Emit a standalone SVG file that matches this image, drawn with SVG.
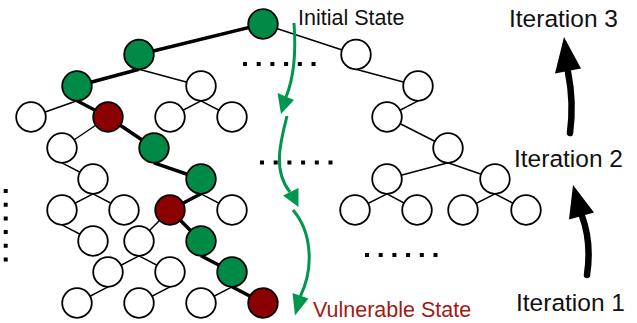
<svg xmlns="http://www.w3.org/2000/svg" width="637" height="323" viewBox="0 0 637 323">
<style>
.n{stroke:#000;stroke-width:1.8}
.w{fill:#fff}.g{fill:#008A46}.r{fill:#8B0000}
.e{stroke:#000;stroke-width:1.5;fill:none}
.t{stroke:#000;stroke-width:3.5;fill:none}
.dots{stroke:#000;stroke-width:4;stroke-dasharray:4 9.7;fill:none}
.ga{stroke:#009650;stroke-width:3;fill:none}
.gh{fill:#009650}
.ba{stroke:#000;stroke-width:6.5;fill:none;stroke-linecap:round}
.lbl{font-family:"Liberation Sans",Arial,Helvetica,sans-serif;fill:#111}
</style>
<rect width="637" height="323" fill="#fff"/>
<g id="connectors">
<path class="t" d="M263 24 L139 54.5 M139 69.3 L77 86 M77 100.8 L108 117 M108 117 L154 148 M154 162.8 L201 179 M201 193.8 L170 210 M170 210 L201 241 M201 255.8 L232 272 M232 286.8 L263 303"/>
<path class="e" d="M263 24 L356 54.5 M139 69.3 L201 86 M77 100.8 L31 117 M201 100.8 L170 117 M201 100.8 L232 117 M108 117 L62 148 M62 162.8 L93 179 M93 193.8 L62 210 M93 193.8 L124 210 M201 193.8 L232 210 M62 224.8 L93 241 M170 210 L139 241 M139 255.8 L108 272 M139 255.8 L170 272 M108 286.8 L77 303 M170 286.8 L139 303 M232 286.8 L201 303"/>
<path class="e" d="M356 69.3 L418 86 M418 100.8 L387 117 M387 117 L448 148 M448 162.8 L387 179 M448 162.8 L495 179 M387 193.8 L355 210 M387 193.8 L417 210 M495 193.8 L463 210 M495 193.8 L526 210"/>
</g>
<g id="nodes">
<g id="n0"><circle class="n g" cx="263" cy="24" r="14.8"/></g>
<g id="n1"><circle class="n g" cx="139" cy="54.5" r="14.8"/></g>
<g id="n2"><circle class="n g" cx="77" cy="86" r="14.8"/></g>
<g id="n3"><circle class="n w" cx="201" cy="86" r="14.8"/></g>
<g id="n4"><circle class="n w" cx="31" cy="117" r="14.8"/></g>
<g id="n5"><circle class="n r" cx="108" cy="117" r="14.8"/></g>
<g id="n6"><circle class="n w" cx="170" cy="117" r="14.8"/></g>
<g id="n7"><circle class="n w" cx="232" cy="117" r="14.8"/></g>
<g id="n8"><circle class="n w" cx="62" cy="148" r="14.8"/></g>
<g id="n9"><circle class="n g" cx="154" cy="148" r="14.8"/></g>
<g id="n10"><circle class="n w" cx="93" cy="179" r="14.8"/></g>
<g id="n11"><circle class="n g" cx="201" cy="179" r="14.8"/></g>
<g id="n12"><circle class="n w" cx="62" cy="210" r="14.8"/></g>
<g id="n13"><circle class="n w" cx="124" cy="210" r="14.8"/></g>
<g id="n14"><circle class="n r" cx="170" cy="210" r="14.8"/></g>
<g id="n15"><circle class="n w" cx="232" cy="210" r="14.8"/></g>
<g id="n16"><circle class="n w" cx="93" cy="241" r="14.8"/></g>
<g id="n17"><circle class="n w" cx="139" cy="241" r="14.8"/></g>
<g id="n18"><circle class="n g" cx="201" cy="241" r="14.8"/></g>
<g id="n19"><circle class="n w" cx="108" cy="272" r="14.8"/></g>
<g id="n20"><circle class="n w" cx="170" cy="272" r="14.8"/></g>
<g id="n21"><circle class="n g" cx="232" cy="272" r="14.8"/></g>
<g id="n22"><circle class="n w" cx="77" cy="303" r="14.8"/></g>
<g id="n23"><circle class="n w" cx="139" cy="303" r="14.8"/></g>
<g id="n24"><circle class="n w" cx="201" cy="303" r="14.8"/></g>
<g id="n25"><circle class="n r" cx="263" cy="303" r="14.8"/></g>
<g id="r0"><circle class="n w" cx="356" cy="54.5" r="14.8"/></g>
<g id="r1"><circle class="n w" cx="418" cy="86" r="14.8"/></g>
<g id="r2"><circle class="n w" cx="387" cy="117" r="14.8"/></g>
<g id="r3"><circle class="n w" cx="448" cy="148" r="14.8"/></g>
<g id="r4"><circle class="n w" cx="387" cy="179" r="14.8"/></g>
<g id="r5"><circle class="n w" cx="495" cy="179" r="14.8"/></g>
<g id="r6"><circle class="n w" cx="355" cy="210" r="14.8"/></g>
<g id="r7"><circle class="n w" cx="417" cy="210" r="14.8"/></g>
<g id="r8"><circle class="n w" cx="463" cy="210" r="14.8"/></g>
<g id="r9"><circle class="n w" cx="526" cy="210" r="14.8"/></g>
</g>
<g id="ellipses">
<line class="dots" x1="243" y1="64" x2="317" y2="64"/>
<line class="dots" x1="260" y1="162.5" x2="334" y2="162.5"/>
<line class="dots" x1="365" y1="255" x2="439" y2="255"/>
<line class="dots" x1="5.7" y1="189" x2="5.7" y2="263"/>
</g>
<g id="green-path">
<path class="ga" d="M294 23 C296 50 295 75 286 97"/>
<polygon class="gh" points="277.5,93 294,100 281,114"/>
<path class="ga" d="M287 116 C281 140 272 170 290 192"/>
<polygon class="gh" points="283,195.5 298.5,188 298.5,207"/>
<path class="ga" d="M293 210 C312 232 314 268 300.5 296"/>
<polygon class="gh" points="292.5,293 308.5,298.5 295,315.5"/>
</g>
<g id="iter-arrows">
<path class="ba" d="M587 275 C590 255 589 235 582 216"/>
<polygon points="569,219.5 594,212.5 573,185" fill="#000"/>
<path class="ba" d="M570 133 C573 110 572 92 568 72"/>
<polygon points="555,73.5 581,68.5 564,37" fill="#000"/>
</g>
<g id="labels">
<text class="lbl" x="298" y="25" font-size="21.5">Initial State</text>
<text class="lbl" x="313" y="316.5" font-size="21.5" style="fill:#A11A13">Vulnerable State</text>
<text class="lbl" x="509" y="26.5" font-size="24.5">Iteration 3</text>
<text class="lbl" x="514" y="166.5" font-size="24.5">Iteration 2</text>
<text class="lbl" x="516" y="310.5" font-size="24.5">Iteration 1</text>
</g>
</svg>
